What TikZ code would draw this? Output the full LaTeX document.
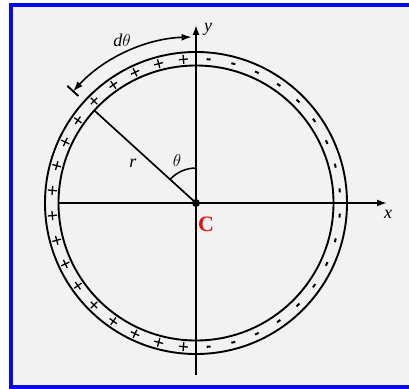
\documentclass[tikz,border=0pt]{standalone}
\usepackage{fontspec}
\setmainfont{Liberation Serif}
\usetikzlibrary{arrows.meta}
\definecolor{framebl}{RGB}{10,10,235}
\definecolor{bggray}{RGB}{242,242,242}
\definecolor{cred}{RGB}{230,20,20}
\begin{document}
\begin{tikzpicture}[x=1pt,y=1pt,
  ring/.style={line width=1.9pt},
  axis/.style={line width=1.7pt},
  lbl/.style={font=\fontsize{18}{20}\selectfont\itshape, inner sep=0pt},
  pluss/.style={line width=1.3pt},
  minuss/.style={line width=2pt}]
\useasboundingbox (-196,-185) rectangle (213,203);
\fill[white] (-196,-185) rectangle (213,203);
\fill[bggray] (-185,-183.5) rectangle (213,198);
\draw[framebl, line width=4pt] (213,198) -- (-185,198) -- (-185,-183.5) -- (213,-183.5);
% rings
\draw[ring] (0,0) circle[radius=151];
\draw[ring] (0,0) circle[radius=137.5];
% axes
\coordinate (C) at (0,0);
\coordinate (xl) at (-137.5,0);
\coordinate (xr) at (191,0);
\coordinate (yb) at (0,-172);
\coordinate (yt) at (0,178);
\draw[axis,-{Latex[length=10pt,width=7pt]}] (xl) -- (xr);
\draw[axis,-{Latex[length=10pt,width=7pt]}] (yb) -- (yt);
\node[lbl] (xlab) at (192,-11) {x};
\node[lbl] (ylab) at (12,174) {y};
% radius
\coordinate (P) at (137.7:137.5);
\draw[axis] (C) -- (P);
\fill (C) circle[radius=4];
\draw[line width=1.5pt] (90:35) arc[start angle=90, end angle=137.7, radius=35];
\node[lbl] (rlab) at (-63,40) {r};
\node[lbl] (thlab) at (-19,43) {$\theta$};
% dtheta arrow
\coordinate (A1) at (137.7:166);
\coordinate (A2) at (91.5:166);
\draw[line width=1.6pt,{Latex[length=10pt,width=7pt]}-{Latex[length=10pt,width=7pt]}] (A1) arc[start angle=137.7, end angle=91.5, radius=166];
\coordinate (B1) at (137.7:159);
\coordinate (B2) at (137.7:174);
\draw[line width=1.9pt] (B1) -- (B2);
\node[lbl] (dth) at (-74,163) {d$\theta$};
% charges
\foreach \a in {95,105,...,265} {
  \begin{scope}[shift={(\a:144.2)}, rotate=\a-90]
    \draw[pluss] (-4.5,0) -- (4.5,0) (0,-4.5) -- (0,4.5);
  \end{scope}
}
\foreach \a in {85,75,...,-85} {
  \begin{scope}[shift={(\a:144.2)}, rotate=\a-90]
    \draw[minuss] (-2,0) -- (2,0);
  \end{scope}
}
\node[inner sep=0pt, text=cred, font=\fontsize{22}{24}\selectfont\bfseries] (Clab) at (10,-21) {C};
\end{tikzpicture}
\end{document}
